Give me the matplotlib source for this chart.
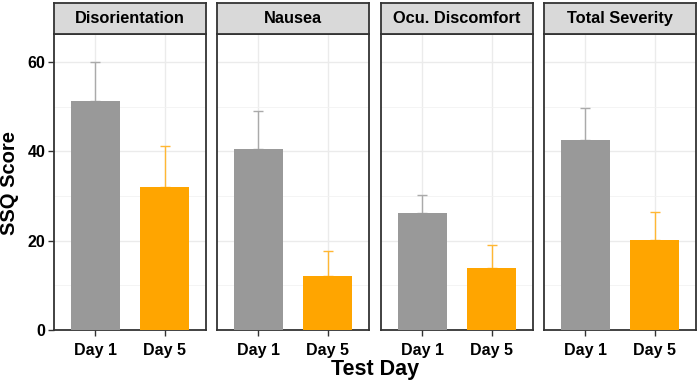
import matplotlib
matplotlib.use('Agg')
import matplotlib.pyplot as plt

plt.rcParams['font.family'] = ['Liberation Sans', 'DejaVu Sans']
plt.rcParams['font.weight'] = 'bold'

panels = ['Disorientation', 'Nausea', 'Ocu. Discomfort', 'Total Severity']
days = ['Day 1', 'Day 5']
means = [[51.3, 32.1], [40.5, 12.1], [26.2, 13.9], [42.5, 20.1]]
errs = [[8.7, 9.1], [8.5, 5.6], [4.0, 5.1], [7.2, 6.3]]

bar_cols = ['#999999', '#FFA500']
err_cols = ['#AAAAAA', '#FFB733']

W, H = 699, 384
fig = plt.figure(figsize=(W / 100, H / 100), dpi=100)

lefts = [54, 217, 381, 544]
pw = 152
top, bottom = 34, 330
strip_top = 3

for i, name in enumerate(panels):
    ax = fig.add_axes([lefts[i] / W, (H - bottom) / H, pw / W, (bottom - top) / H])
    ax.set_xlim(0.4, 2.6)
    ax.set_ylim(0, 66.3)
    ax.set_yticks([0, 20, 40, 60])
    ax.set_yticks([10, 30, 50], minor=True)
    ax.set_xticks([1, 2])
    ax.grid(True, which='major', color='#EBEBEB', lw=1.0, zorder=0)
    ax.grid(True, which='minor', axis='y', color='#F2F2F2', lw=0.6, zorder=0)
    ax.set_axisbelow(True)
    for j in range(2):
        ax.errorbar(j + 1, means[i][j], yerr=[[0], [errs[i][j]]], fmt='none',
                    ecolor=err_cols[j], elinewidth=1.0, capsize=3.5, capthick=1.0, zorder=2)
        ax.bar(j + 1, means[i][j], width=0.7, color=bar_cols[j], zorder=3)
    ax.set_xticklabels(days, fontsize=11.5, fontweight='bold', color='black')
    ax.tick_params(axis='x', length=4, width=1, color='#333333', pad=5)
    ax.tick_params(axis='y', which='minor', length=0)
    if i == 0:
        ax.set_yticklabels(['0', '20', '40', '60'], fontsize=11.5, fontweight='bold', color='black')
        ax.tick_params(axis='y', which='major', length=4, width=1, color='#333333', pad=2)
    else:
        ax.tick_params(axis='y', which='major', length=0, labelleft=False)
    for s in ax.spines.values():
        s.set_color('#333333')
        s.set_linewidth(1.3)

    sax = fig.add_axes([lefts[i] / W, (H - top) / H, pw / W, (top - strip_top) / H])
    sax.set_facecolor('#D9D9D9')
    sax.set_xticks([])
    sax.set_yticks([])
    for s in sax.spines.values():
        s.set_color('#333333')
        s.set_linewidth(1.3)
    sax.text(0.5, 0.5, name, ha='center', va='center', fontsize=11.8,
             fontweight='bold', color='black', transform=sax.transAxes)

fig.text(10 / W, 1 - 183 / H, 'SSQ Score', rotation=90, ha='center', va='center',
         fontsize=14.5, fontweight='bold', color='black')
fig.text(375 / W, 1 - 370 / H, 'Test Day', ha='center', va='center',
         fontsize=15.5, fontweight='bold', color='black')

fig.savefig('out.png', dpi=100)
